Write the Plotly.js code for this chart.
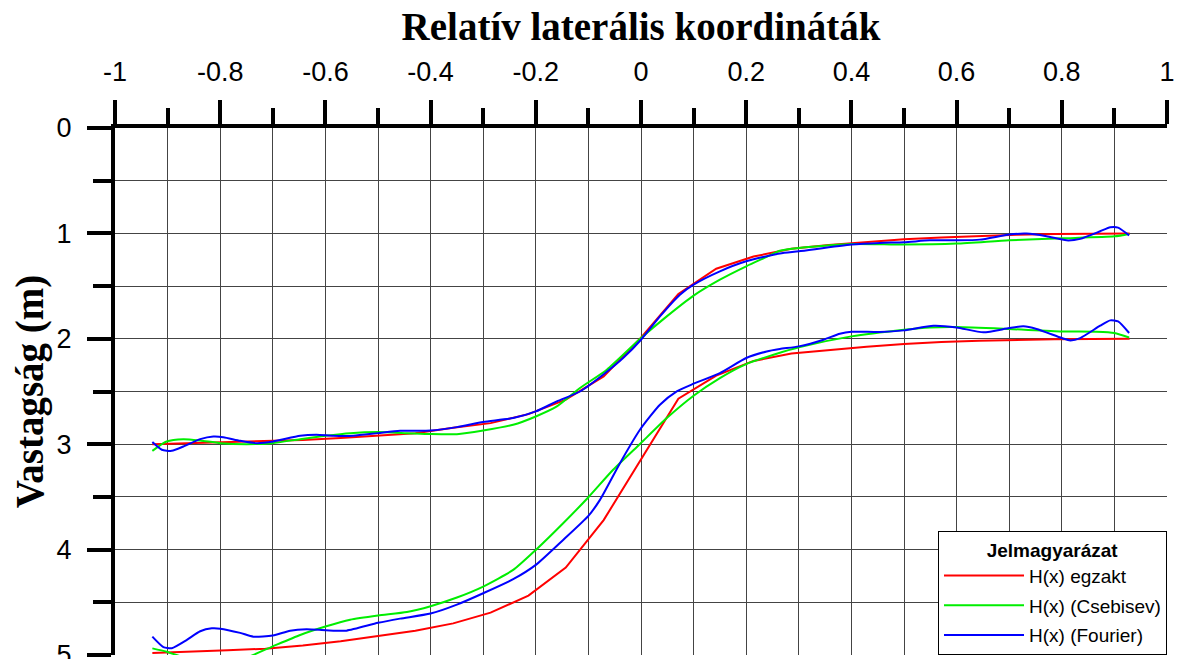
<!DOCTYPE html>
<html><head><meta charset="utf-8">
<script src="https://cdn.plot.ly/plotly-3.0.1.min.js"></script>
<style>html,body{margin:0;padding:0;background:#fff;overflow:hidden}</style>
</head><body><div id="chart" style="width:1178px;height:659px"></div>
<script>
// ---- data ----
const xExact = [-0.929,-0.857,-0.786,-0.714,-0.643,-0.571,-0.5,-0.429,-0.357,-0.286,-0.214,-0.143,-0.071,0,0.071,0.143,0.214,0.286,0.357,0.429,0.5,0.571,0.643,0.714,0.786,0.857,0.929];
const exactUpper = [3.00,2.99,2.98,2.97,2.96,2.94,2.92,2.895,2.845,2.80,2.715,2.578,2.357,1.99,1.575,1.335,1.22,1.145,1.11,1.08,1.056,1.04,1.025,1.013,1.006,1.002,1.0];
const exactLower = [4.98,4.97,4.955,4.94,4.91,4.87,4.82,4.77,4.70,4.598,4.437,4.171,3.72,3.148,2.569,2.35,2.21,2.14,2.105,2.075,2.05,2.03,2.018,2.009,2.004,2.001,2.0];

const xChebUpper = [-0.929,-0.902,-0.870,-0.838,-0.800,-0.750,-0.701,-0.648,-0.600,-0.553,-0.500,-0.445,-0.400,-0.350,-0.300,-0.243,-0.200,-0.160,-0.116,-0.065,0,0.049,0.100,0.150,0.200,0.239,0.264,0.300,0.400,0.500,0.600,0.700,0.800,0.900,0.928];
const chebUpper = [3.063,2.974,2.952,2.965,2.99,3.0,2.99,2.952,2.92,2.895,2.885,2.895,2.904,2.905,2.87,2.816,2.737,2.642,2.467,2.293,1.993,1.787,1.59,1.439,1.312,1.223,1.165,1.138,1.10,1.106,1.097,1.066,1.047,1.028,1.005];
const xChebLower = [-0.929,-0.902,-0.864,-0.812,-0.753,-0.701,-0.648,-0.600,-0.553,-0.500,-0.445,-0.400,-0.350,-0.300,-0.243,-0.200,-0.148,-0.100,-0.053,-0.002,0.049,0.100,0.150,0.200,0.252,0.302,0.400,0.500,0.549,0.600,0.700,0.800,0.866,0.900,0.928];
const chebLower = [4.937,4.969,5.03,5.08,5.03,4.92,4.81,4.73,4.665,4.625,4.592,4.537,4.455,4.351,4.193,4.003,3.75,3.503,3.243,2.998,2.752,2.54,2.373,2.24,2.151,2.078,1.977,1.914,1.892,1.888,1.907,1.93,1.933,1.945,1.987];

const xFourUpper = [-0.929,-0.911,-0.892,-0.870,-0.838,-0.813,-0.794,-0.762,-0.731,-0.699,-0.648,-0.617,-0.585,-0.547,-0.500,-0.458,-0.400,-0.350,-0.300,-0.243,-0.200,-0.160,-0.116,-0.072,-0.034,0,0.036,0.074,0.100,0.150,0.200,0.264,0.300,0.400,0.454,0.500,0.549,0.600,0.644,0.700,0.733,0.771,0.809,0.835,0.873,0.892,0.907,0.928];
const fourUpper = [2.98,3.053,3.063,3.022,2.952,2.927,2.933,2.968,2.99,2.974,2.92,2.911,2.92,2.92,2.895,2.873,2.87,2.838,2.79,2.752,2.689,2.594,2.50,2.341,2.183,2.009,1.787,1.581,1.486,1.36,1.265,1.19,1.17,1.106,1.09,1.084,1.066,1.066,1.059,1.011,1.002,1.027,1.066,1.052,0.98,0.942,0.945,1.019];
const xFourLower = [-0.929,-0.908,-0.892,-0.864,-0.838,-0.816,-0.800,-0.762,-0.737,-0.700,-0.667,-0.636,-0.599,-0.560,-0.500,-0.458,-0.400,-0.350,-0.300,-0.243,-0.200,-0.148,-0.100,-0.078,-0.040,-0.002,0.036,0.068,0.100,0.150,0.200,0.239,0.264,0.300,0.347,0.378,0.400,0.454,0.500,0.556,0.600,0.651,0.700,0.727,0.752,0.800,0.816,0.835,0.873,0.892,0.907,0.928];
const fourLower = [4.826,4.925,4.935,4.858,4.775,4.747,4.75,4.79,4.826,4.815,4.769,4.756,4.765,4.769,4.695,4.655,4.607,4.522,4.414,4.281,4.145,3.908,3.68,3.528,3.18,2.863,2.626,2.499,2.426,2.325,2.182,2.12,2.097,2.072,2.009,1.952,1.933,1.936,1.92,1.876,1.892,1.939,1.898,1.882,1.907,1.993,2.015,1.993,1.876,1.825,1.835,1.945];

const xTickVals = [-1,-0.8,-0.6,-0.4,-0.2,0,0.2,0.4,0.6,0.8,1];
const xTickText = ['-1','-0.8','-0.6','-0.4','-0.2','0','0.2','0.4','0.6','0.8','1'];
const xMinorVals = [-0.9,-0.7,-0.5,-0.3,-0.1,0.1,0.3,0.5,0.7,0.9];
const yTickVals = [0,1,2,3,4,5];
const yTickText = ['0','1','2','3','4','5'];
const yMinorVals = [0.5,1.5,2.5,3.5,4.5];

const seriesNames = ['H(x) egzakt','H(x) (Csebisev)','H(x) (Fourier)'];
const xTitle = 'Relatív laterális koordináták';
const yTitle = 'Vastagság (m)';
const legendTitle = 'Jelmagyarázat';

// ---- chart ----
const colors = ['#ff0000','#00ee00','#0000ff'];
function tr(x, y, i, show, shape){
  return {x:x, y:y, type:'scatter', mode:'lines', name:seriesNames[i],
    legendgroup:'g'+i, showlegend:show,
    line:{color:colors[i], width:2, shape:shape, smoothing:0.6}};
}
const data = [
  tr(xExact, exactUpper, 0, true, 'linear'),
  tr(xExact, exactLower, 0, false, 'linear'),
  tr(xChebUpper, chebUpper, 1, true, 'spline'),
  tr(xChebLower, chebLower, 1, false, 'spline'),
  tr(xFourUpper, fourUpper, 2, true, 'spline'),
  tr(xFourLower, fourLower, 2, false, 'spline')
];
const tickFont = {family:'Liberation Sans, Arial, sans-serif', size:27, color:'#000'};
const titleFont = {family:'Liberation Serif, Times New Roman, serif', size:39, color:'#000', weight:'bold'};
const layout = {
  width:1178, height:659,
  margin:{l:115, r:11, t:128, b:4, pad:0},
  paper_bgcolor:'#fff', plot_bgcolor:'#fff',
  showlegend:true,
  xaxis:{
    side:'top', range:[-1,1], tickmode:'array', tickvals:xTickVals, ticktext:xTickText,
    ticks:'outside', ticklen:24, tickwidth:4, tickcolor:'#000',
    showline:true, linewidth:4, linecolor:'#000', mirror:false,
    showgrid:true, gridcolor:'#444', gridwidth:1, zeroline:false,
    tickfont:tickFont, ticklabelstandoff:8, ticklabeloverflow:'allow',
    minor:{tickmode:'array', tickvals:xMinorVals, ticks:'outside', ticklen:16, tickwidth:4, tickcolor:'#000', showgrid:true, gridcolor:'#444', gridwidth:1},
    title:{text:xTitle, font:titleFont, standoff:6},
    automargin:false, fixedrange:true
  },
  yaxis:{
    range:[5,0], tickmode:'array', tickvals:yTickVals, ticktext:yTickText,
    ticks:'outside', ticklen:24, tickwidth:4, tickcolor:'#000',
    showline:true, linewidth:4, linecolor:'#000',
    showgrid:true, gridcolor:'#444', gridwidth:1, zeroline:false,
    tickfont:tickFont, ticklabelstandoff:10, ticklabeloverflow:'allow',
    minor:{tickmode:'array', tickvals:yMinorVals, ticks:'outside', ticklen:18, tickwidth:4, tickcolor:'#000', showgrid:true, gridcolor:'#444', gridwidth:1},
    title:{text:yTitle, font:titleFont, standoff:2},
    automargin:false, fixedrange:true
  },
  legend:{
    x:1, xanchor:'right', y:0, yanchor:'bottom',
    bgcolor:'#fff', bordercolor:'#000', borderwidth:1,
    font:{family:'Liberation Sans, Arial, sans-serif', size:19, color:'#000'},
    title:{text:legendTitle, side:'top center', font:{family:'Liberation Sans, Arial, sans-serif', size:19, color:'#000', weight:'bold'}},
    traceorder:'grouped', tracegroupgap:2, itemwidth:80,
    entrywidthmode:'pixels', entrywidth:150
  }
};
Plotly.newPlot('chart', data, layout, {displayModeBar:false, staticPlot:true});
</script>
</body></html>
